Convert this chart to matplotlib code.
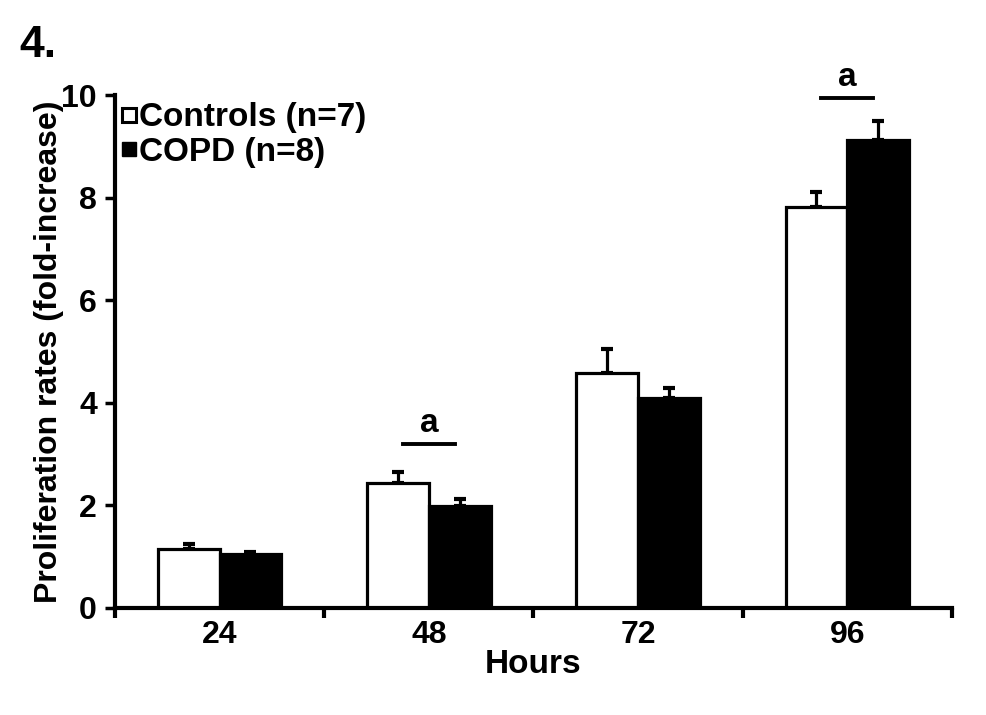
import numpy as np
import matplotlib.pyplot as plt
from matplotlib.lines import Line2D

plt.rcParams['font.family'] = ['Liberation Sans', 'DejaVu Sans']
plt.rcParams['font.weight'] = 'bold'

hours = ['24', '48', '72', '96']
controls = [1.15, 2.44, 4.58, 7.82]
controls_err = [0.10, 0.21, 0.46, 0.30]
copd = [1.05, 1.99, 4.10, 9.13]
copd_err = [0.05, 0.13, 0.19, 0.37]
sig_groups = [1, 3]
sig_heights = [3.2, 9.95]

fig = plt.figure(figsize=(9.87, 7.15), dpi=100)
ax = fig.add_axes([0.1165, 0.1497, 0.848, 0.7173])

x = np.arange(len(hours))
w = 0.295
lw = 2.3
ax.bar(x - w / 2, controls, w, color='white', edgecolor='black', linewidth=lw, zorder=2)
ax.bar(x + w / 2, copd, w, color='black', edgecolor='black', linewidth=lw, zorder=2)
ax.errorbar(x - w / 2, controls, yerr=[np.zeros(4), controls_err], fmt='none',
            ecolor='black', elinewidth=2.3, capsize=4, capthick=3, zorder=1)
ax.errorbar(x + w / 2, copd, yerr=[np.zeros(4), copd_err], fmt='none',
            ecolor='black', elinewidth=2.3, capsize=4, capthick=3, zorder=1)

for g, h in zip(sig_groups, sig_heights):
    ax.plot([g - 0.125, g + 0.125], [h, h], color='black', lw=2.8, clip_on=False)
    ax.text(g, h + 0.1, 'a', ha='center', va='bottom', fontsize=24, fontweight='bold')

ax.set_xlim(-0.5, 3.5)
ax.set_ylim(0, 10)
ax.set_yticks([0, 2, 4, 6, 8, 10])
ax.set_xticks(x)
ax.set_xticklabels(hours)
ax.set_xticks(np.arange(-0.5, 4, 1), minor=True)
ax.tick_params(axis='x', which='major', length=0, labelsize=23, pad=9)
ax.tick_params(axis='x', which='minor', length=7, width=3, direction='out')
ax.tick_params(axis='y', length=7, width=2.5, direction='out', labelsize=23, pad=6)
for lab in ax.get_xticklabels() + ax.get_yticklabels():
    lab.set_fontweight('bold')

for s in ['top', 'right']:
    ax.spines[s].set_visible(False)
for s in ['left', 'bottom']:
    ax.spines[s].set_linewidth(3)

ax.set_xlabel('Hours', fontsize=24, fontweight='bold', labelpad=-1)
ax.set_ylabel('Proliferation rates (fold-increase)', fontsize=23, fontweight='bold', labelpad=-2)

handles = [Line2D([], [], marker='s', ls='none', markersize=10, markerfacecolor='white',
                  markeredgecolor='black', markeredgewidth=2.2),
           Line2D([], [], marker='s', ls='none', markersize=10, markerfacecolor='black',
                  markeredgecolor='black')]
ax.legend(handles, ['Controls (n=7)', 'COPD (n=8)'], loc='upper left',
          bbox_to_anchor=(-0.017, 1.025), frameon=False, handlelength=0.5,
          handletextpad=0.05, labelspacing=0.1, borderaxespad=0.2,
          prop={'weight': 'bold', 'size': 24})

fig.text(0.02, 0.965, '4.', fontsize=32, fontweight='bold', va='top', ha='left')

fig.savefig('out.png', dpi=100)
